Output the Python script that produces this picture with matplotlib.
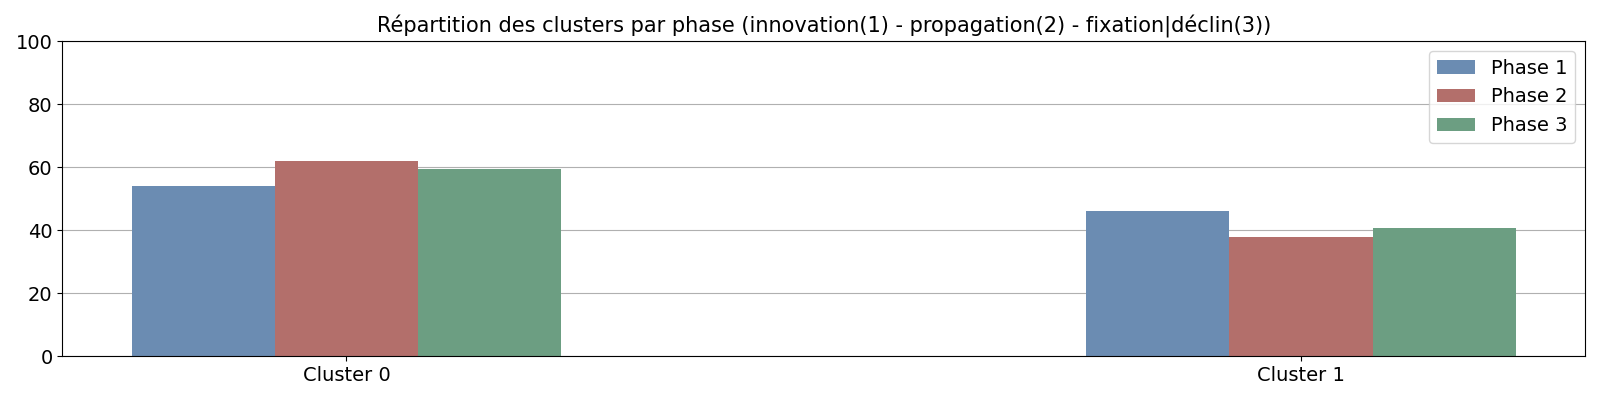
import numpy as np
import matplotlib
matplotlib.use("Agg")
import matplotlib.pyplot as plt

# Data
clusters = ["Cluster 0", "Cluster 1"]
phase_labels = ["Phase 1", "Phase 2", "Phase 3"]
phase1 = [54.0, 46.0]
phase2 = [62.0, 38.0]
phase3 = [59.4, 40.6]
colors = ["#6b8cb2", "#b36f6b", "#6c9e82"]

values = [phase1, phase2, phase3]
x = np.arange(len(clusters))
width = 0.15

fig, ax = plt.subplots(figsize=(16, 4), dpi=100)
for i, (vals, lab) in enumerate(zip(values, phase_labels)):
    ax.bar(x + (i - 1) * width, vals, width, label=lab, color=colors[i])

ax.set_xticks(x)
ax.set_xticklabels(clusters)
ax.set_ylim(0, 100)
ax.tick_params(labelsize=14)
ax.yaxis.grid(True, color="#b0b0b0")
ax.set_axisbelow(True)
ax.set_title("Répartition des clusters par phase (innovation(1) - propagation(2) - fixation|déclin(3))",
             fontsize=15)
ax.legend(fontsize=14, loc="upper right")

plt.subplots_adjust(left=0.039, right=0.9906, bottom=0.109, top=0.897)
plt.savefig("out.png")
